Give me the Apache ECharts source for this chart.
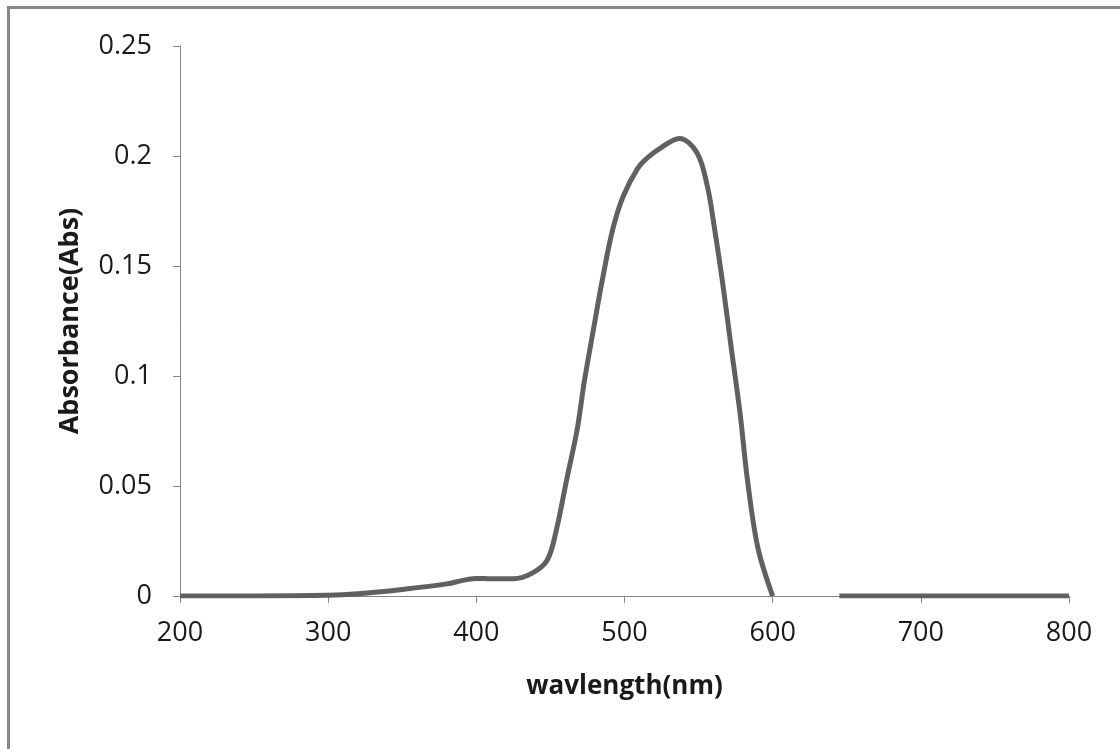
<!DOCTYPE html>
<html>
<head>
<meta charset="utf-8">
<script src="https://cdn.jsdelivr.net/npm/echarts@6/dist/echarts.min.js"></script>
<style>
html,body{margin:0;padding:0;background:#fff;}
#chart{width:1120px;height:749px;}
</style>
</head>
<body>
<div id="chart"></div>
<script>
// Spectrum data
var wavelengthMain = [200,250,300,320,350,380,400,410,425,438,448,454,461,468,473,479,485,492,499,509,516,524,537,549,556,561,566,572,578,583,590,600];
var absorbanceMain = [0,0,0.0003,0.001,0.003,0.0055,0.008,0.0078,0.0078,0.0105,0.0165,0.03,0.053,0.0755,0.098,0.121,0.1435,0.1665,0.1815,0.1945,0.1995,0.2035,0.208,0.2014,0.186,0.166,0.1435,0.113,0.083,0.0527,0.022,0];
var wavelengthTail = [645,700,800];
var absorbanceTail = [0,0,0];
var xTicks = [200,300,400,500,600,700,800];
var yTicks = [0,0.05,0.1,0.15,0.2,0.25];

function pairs(xs, ys){ return xs.map(function(x,i){ return [x, ys[i]]; }); }

var chart = echarts.init(document.getElementById('chart'), null, {renderer:'canvas'});
var font = '"Open Sans", "Noto Sans", sans-serif';
var lineStyle = {color:'#606060', width:5};
chart.setOption({
  animation:false,
  backgroundColor:'#ffffff',
  graphic:[{
    type:'rect', shape:{x:8.5, y:7.5, width:1200, height:800},
    style:{fill:'none', stroke:'#878787', lineWidth:3}, silent:true
  }],
  grid:{left:180, right:51, top:46, bottom:153},
  xAxis:{
    type:'value', min:xTicks[0], max:xTicks[xTicks.length-1], interval:100,
    name:'wavlength(nm)', nameLocation:'middle', nameGap:78,
    nameTextStyle:{fontFamily:font, fontWeight:'bold', fontSize:26, color:'#1a1a1a'},
    axisLine:{lineStyle:{color:'#868686', width:1}},
    axisTick:{show:true, length:7, lineStyle:{color:'#868686'}},
    axisLabel:{fontFamily:font, fontSize:27, color:'#1a1a1a', margin:24},
    splitLine:{show:false}
  },
  yAxis:{
    type:'value', min:yTicks[0], max:yTicks[yTicks.length-1], interval:0.05,
    name:'Absorbance(Abs)', nameLocation:'middle', nameGap:96,
    nameTextStyle:{fontFamily:font, fontWeight:'bold', fontSize:27, color:'#1a1a1a'},
    axisLine:{show:true, lineStyle:{color:'#868686', width:1}},
    axisTick:{show:true, length:7, lineStyle:{color:'#868686'}},
    axisLabel:{fontFamily:font, fontSize:27, color:'#1a1a1a', margin:28},
    splitLine:{show:false}
  },
  series:[
    {type:'line', data:pairs(wavelengthMain, absorbanceMain), smooth:0.35, showSymbol:false, symbol:'none', lineStyle:lineStyle, z:3},
    {type:'line', data:pairs(wavelengthTail, absorbanceTail), showSymbol:false, symbol:'none', lineStyle:lineStyle, z:3}
  ]
});
</script>
</body>
</html>
